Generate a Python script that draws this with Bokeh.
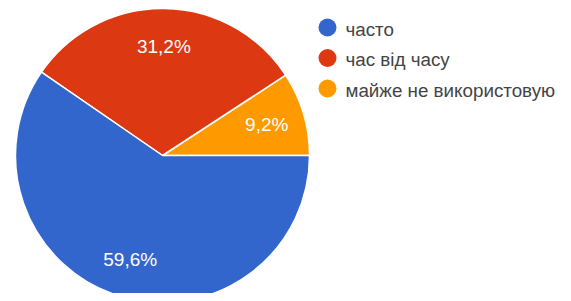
import numpy as np
from bokeh.plotting import figure
from bokeh.models import Range1d, ColumnDataSource
from bokeh.core.properties import value
from bokeh.embed import file_html
from bokeh.resources import INLINE

# ---- data (legend order) ----
categories = ["часто", "час від часу", "майже не використовую"]
shares = [59.6, 31.2, 9.2]
colors = ["#3366cc", "#dc3912", "#ff9900"]

# ---- layout / style ----
W, H = 563, 293
CX, CY, R = 162, H - 155, 147
LABEL_R = 0.74
FONT = "Liberation Sans"
LEG_X, LEG_Y0, LEG_DY = 327, H - 27, 30.5

p = figure(width=W, height=H, x_range=Range1d(0, W), y_range=Range1d(0, H),
           output_backend="svg", toolbar_location=None, min_border=0,
           x_axis_location=None, y_axis_location=None)
p.grid.visible = False
p.outline_line_color = None
p.background_fill_color = "white"
p.border_fill_color = "white"

# pie: drawn anticlockwise from 3 o'clock, last category first
order = list(range(len(categories)))[::-1]
frac = np.array([shares[i] for i in order]) / 100.0
ends = np.cumsum(frac) * 2 * np.pi
starts = ends - frac * 2 * np.pi
mids = (starts + ends) / 2
pie = ColumnDataSource(dict(
    start=starts, end=ends,
    color=[colors[i] for i in order],
    lx=CX + LABEL_R * R * np.cos(mids),
    ly=CY + LABEL_R * R * np.sin(mids),
    label=[("%.1f" % shares[i]).replace(".", ",") + "%" for i in order],
))
p.wedge(x=CX, y=CY, radius=R, start_angle="start", end_angle="end",
        direction="anticlock", fill_color="color", line_color="white",
        line_width=1.5, source=pie)
p.text(x="lx", y="ly", text="label", source=pie, text_color="white",
       text_font=value(FONT), text_font_size="19px",
       text_align="center", text_baseline="middle")

# legend
idx = np.arange(len(categories))
leg = ColumnDataSource(dict(
    x=np.full(len(categories), LEG_X),
    y=LEG_Y0 - idx * LEG_DY,
    ty=LEG_Y0 - idx * LEG_DY - 1.5,
    tx=np.full(len(categories), LEG_X + 18),
    color=colors, name=categories,
))
p.scatter(x="x", y="y", size=18, fill_color="color", line_color=None,
          marker="circle", source=leg)
p.text(x="tx", y="ty", text="name", source=leg, text_color="#444444",
       text_font=value(FONT), text_font_size="18.8px",
       text_align="left", text_baseline="middle")

open("out.html", "w").write(file_html(p, INLINE))
